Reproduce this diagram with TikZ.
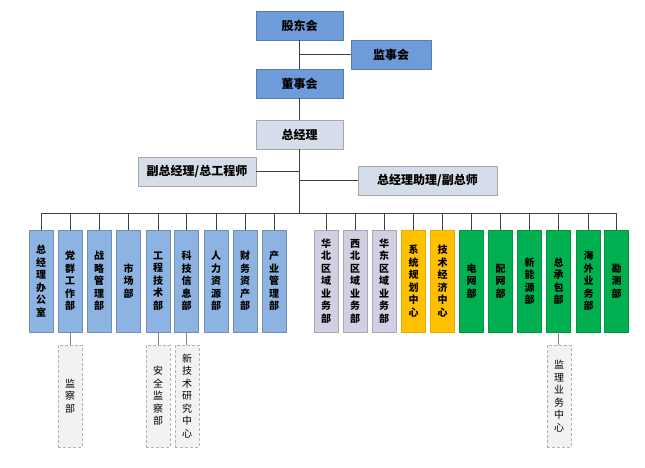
\documentclass[tikz,border=0pt]{standalone}
\usepackage{fontspec}
\setmainfont{Noto Sans CJK SC}
\usepackage{xcolor}
\usepackage{tikz}
\usetikzlibrary{positioning}
\definecolor{topblue}{HTML}{6E9CDA}
\definecolor{deptblue}{HTML}{8DB3E2}
\definecolor{mgrgray}{HTML}{D6DDEA}
\definecolor{areagray}{HTML}{D3CFE2}
\definecolor{centerorg}{HTML}{FFC000}
\definecolor{bizgreen}{HTML}{00B050}
\tikzset{
    topbox/.style = {rectangle, draw=topblue!80!black, fill=topblue, font=\bfseries\fontsize{12}{14}\selectfont, minimum width=87pt, minimum height=29pt, inner sep=0pt},
    mgrbox/.style = {rectangle, draw=gray!70, fill=mgrgray, font=\bfseries\fontsize{12}{14}\selectfont, minimum height=29pt, inner sep=0pt},
    deptbox/.style = {rectangle, align=center, font=\bfseries\fontsize{10}{12.5}\selectfont, minimum width=24pt, minimum height=102pt, inner sep=0pt},
    subbox/.style = {rectangle, densely dashed, draw=gray!60, fill=gray!10, align=center, font=\fontsize{10}{12.5}\selectfont, minimum width=24pt, minimum height=102pt, inner sep=0pt},
}

\begin{document}
\begin{tikzpicture}[
	x=1pt,
	y=-1pt,
	line width=0.9pt
]
\tikzset{
    blue/.style = {deptbox, draw=deptblue!80!black, fill=deptblue},
    area/.style = {deptbox, draw=areagray!80!black, fill=areagray},
    center/.style = {deptbox, draw=centerorg!90!black, fill=centerorg},
    green/.style = {deptbox, draw=bizgreen!85!black, fill=bizgreen},
    link/.style = {-, draw=black!75},
    sublink/.style = {-, draw=gray, line width=0.6pt},
}
\useasboundingbox (0,0) rectangle (645,468);
\node[topbox] at (299.5,25.5) (gdh) {股东会};
\node[topbox, minimum width=80pt] at (391,54.5) (jsh) {监事会};
\node[topbox] at (299.5,83.5) (dsh) {董事会};
\node[mgrbox, minimum width=87pt] at (299.5,134.5) (zjl) {总经理};
\node[mgrbox, minimum width=118pt] at (197,171.5) (fzj) {副总经理/总工程师};
\node[mgrbox, minimum width=139pt] at (427.5,180.5) (zlf) {总经理助理/副总师};
%
\node[blue] at (41,281) (bgs) {总\\经\\理\\办\\公\\室};
\node[blue] at (70,281) (dqb) {党\\群\\工\\作\\部};
\node[blue] at (99,281) (zlb) {战\\略\\管\\理\\部};
\node[blue] at (128.5,281) (scb) {市\\场\\部};
\node[blue] at (158,281) (gcb) {工\\程\\技\\术\\部};
\node[blue] at (186.5,281) (kjb) {科\\技\\信\\息\\部};
\node[blue] at (216,281) (rlb) {人\\力\\资\\源\\部};
\node[blue] at (245,281) (cwb) {财\\务\\资\\产\\部};
\node[blue] at (274,281) (cyb) {产\\业\\管\\理\\部};
%
\node[area] at (326,281) (hbq) {华\\北\\区\\域\\业\\务\\部};
\node[area] at (355,281) (xbq) {西\\北\\区\\域\\业\\务\\部};
\node[area] at (384,281) (hdq) {华\\东\\区\\域\\业\\务\\部};
\node[center] at (413.5,281) (xgz) {系\\统\\规\\划\\中\\心};
\node[center] at (442.5,281) (jjz) {技\\术\\经\\济\\中\\心};
\node[green] at (471.5,281) (dwb) {电\\网\\部};
\node[green] at (500.5,281) (pwb) {配\\网\\部};
\node[green] at (529.5,281) (xny) {新\\能\\源\\部};
\node[green] at (558.5,281) (zcb) {总\\承\\包\\部};
\node[green] at (588.5,281) (hwb) {海\\外\\业\\务\\部};
\node[green] at (616.5,281) (kcb) {勘\\测\\部};
%
\node[subbox] at (70,396) (jcb) {监\\察\\部};
\node[subbox] at (158,396) (aqb) {安\\全\\监\\察\\部};
\node[subbox] at (187,396) (xjs) {新\\技\\术\\研\\究\\中\\心};
\node[subbox] at (559,396) (jlz) {监\\理\\业\\务\\中\\心};
%
\coordinate (busl) at (41,213);
\coordinate (busr) at (616.5,213);
\draw[link] (gdh) -- (dsh);
\draw[link] (jsh.west) -- (jsh.west -| gdh.south);
\draw[link] (dsh) -- (zjl);
\draw[link] (zjl.south) -- (zjl.south |- busl);
\draw[link] (fzj.east) -- (fzj.east -| zjl.south);
\draw[link] (zlf.west) -- (zlf.west -| zjl.south);
\draw[link] (busl) -- (busr);
%
\draw[link] (bgs.north) -- (bgs.north |- busl);
\draw[link] (dqb.north) -- (dqb.north |- busl);
\draw[link] (zlb.north) -- (zlb.north |- busl);
\draw[link] (scb.north) -- (scb.north |- busl);
\draw[link] (gcb.north) -- (gcb.north |- busl);
\draw[link] (kjb.north) -- (kjb.north |- busl);
\draw[link] (rlb.north) -- (rlb.north |- busl);
\draw[link] (cwb.north) -- (cwb.north |- busl);
\draw[link] (cyb.north) -- (cyb.north |- busl);
\draw[link] (hbq.north) -- (hbq.north |- busl);
\draw[link] (xbq.north) -- (xbq.north |- busl);
\draw[link] (hdq.north) -- (hdq.north |- busl);
\draw[link] (xgz.north) -- (xgz.north |- busl);
\draw[link] (jjz.north) -- (jjz.north |- busl);
\draw[link] (dwb.north) -- (dwb.north |- busl);
\draw[link] (pwb.north) -- (pwb.north |- busl);
\draw[link] (xny.north) -- (xny.north |- busl);
\draw[link] (zcb.north) -- (zcb.north |- busl);
\draw[link] (hwb.north) -- (hwb.north |- busl);
\draw[link] (kcb.north) -- (kcb.north |- busl);
%
\draw[sublink] (dqb) -- (jcb);
\draw[sublink] (gcb) -- (aqb);
\draw[sublink] (kjb.south) -- (kjb.south |- xjs.north);
\draw[sublink] (zcb.south) -- (zcb.south |- jlz.north);
\end{tikzpicture}
\end{document}
